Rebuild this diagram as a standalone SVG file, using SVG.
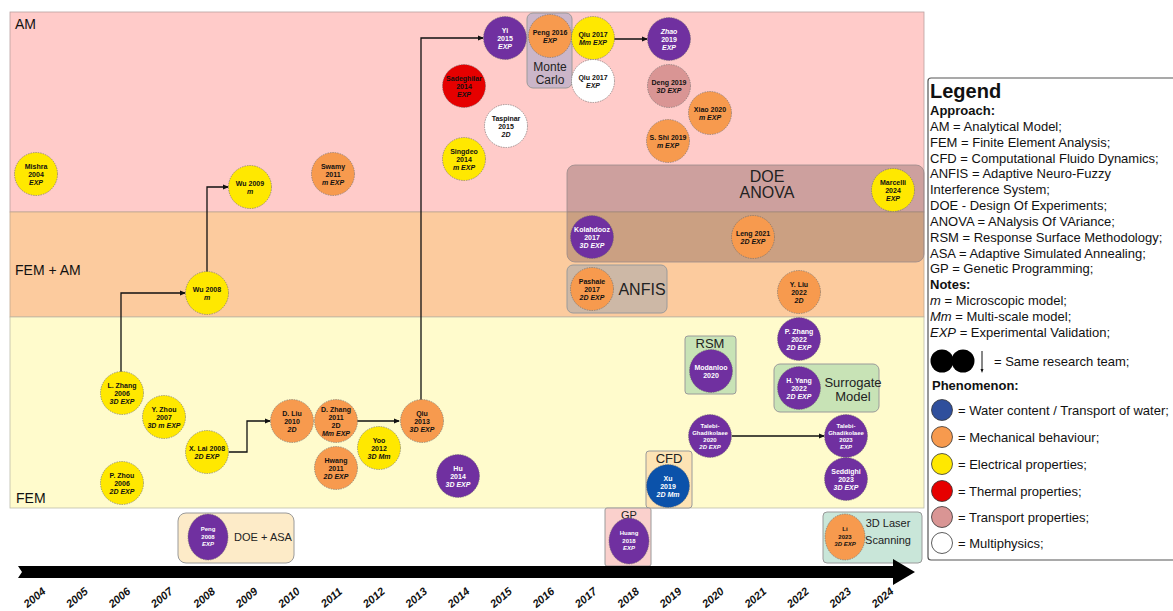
<svg xmlns="http://www.w3.org/2000/svg" width="1173" height="611" viewBox="0 0 1173 611">
<style>
.f{font-family:"Liberation Sans",Arial,Helvetica,sans-serif}
.n circle,.n ellipse{stroke:#6a6a6a;stroke-width:0.6;stroke-dasharray:1.5 1}
.t{font-family:"Liberation Sans",Arial,sans-serif;font-size:7px;font-weight:bold;text-anchor:middle;fill:#111}
.s{font-size:6px}
.w{fill:#fff}
.i{font-style:italic}
.P{fill:#7030A0}.O{fill:#F79A4E}.Y{fill:#FFE800}.R{fill:#E60000}.T{fill:#D99594}.W{fill:#fff}.B{fill:#0B52AA}
.box{stroke:#9a9a9a;stroke-width:1}
.lbl{font-family:"Liberation Sans",Arial,sans-serif;fill:#222;text-anchor:middle}
.reg{font-family:"Liberation Sans",Arial,sans-serif;font-size:14px;fill:#111}
.lg{font-family:"Liberation Sans",Arial,sans-serif;font-size:13px;fill:#111}
.yr{font-family:"Liberation Sans",Arial,sans-serif;font-size:11px;font-weight:bold;font-style:italic;fill:#111;text-anchor:middle}
.c{fill:none;stroke:#111;stroke-width:1.3}
</style>
<defs>
<marker id="ah" markerWidth="6" markerHeight="6" refX="5" refY="3" orient="auto" markerUnits="userSpaceOnUse"><path d="M0,0.5 L6,3 L0,5.5 Z" fill="#111"/></marker>
<path id="y0" d="M22,613 L52,588"/>
<path id="y1" d="M64.4,613 L94.4,588"/>
<path id="y2" d="M106.8,613 L136.8,588"/>
<path id="y3" d="M149.2,613 L179.2,588"/>
<path id="y4" d="M191.6,613 L221.6,588"/>
<path id="y5" d="M234,613 L264,588"/>
<path id="y6" d="M276.4,613 L306.4,588"/>
<path id="y7" d="M318.8,613 L348.8,588"/>
<path id="y8" d="M361.2,613 L391.2,588"/>
<path id="y9" d="M403.6,613 L433.6,588"/>
<path id="y10" d="M446,613 L476,588"/>
<path id="y11" d="M488.4,613 L518.4,588"/>
<path id="y12" d="M530.8,613 L560.8,588"/>
<path id="y13" d="M573.2,613 L603.2,588"/>
<path id="y14" d="M615.6,613 L645.6,588"/>
<path id="y15" d="M658,613 L688,588"/>
<path id="y16" d="M700.4,613 L730.4,588"/>
<path id="y17" d="M742.8,613 L772.8,588"/>
<path id="y18" d="M785.2,613 L815.2,588"/>
<path id="y19" d="M827.6,613 L857.6,588"/>
<path id="y20" d="M870,613 L900,588"/>
</defs>
<rect width="1173" height="611" fill="#fff"/>
<!-- bands -->
<g id="bands">
<rect x="10" y="12" width="914" height="200" fill="#FFCBC9" stroke="#b9a0a0" stroke-width="0.8"/>
<rect x="10" y="212" width="914" height="105" fill="#FCCB9E" stroke="#c0a890" stroke-width="0.8"/>
<rect x="10" y="317" width="914" height="191" fill="#FFFBCC" stroke="#bdbdaa" stroke-width="0.8"/>
<text class="reg" x="15" y="29">AM</text>
<text class="reg" x="15" y="275">FEM + AM</text>
<text class="reg" x="16" y="503">FEM</text>
</g>
<!-- method boxes -->
<g id="box-montecarlo"><rect class="box" x="527" y="13" width="45" height="75" rx="6" fill="#CBB6C9"/><text class="lbl" x="550" y="71" font-size="12">Monte</text><text class="lbl" x="550" y="84" font-size="12">Carlo</text></g>
<g id="box-doe-anova"><rect x="567" y="165" width="357" height="97" rx="8" fill="#6F504D" fill-opacity="0.35" stroke="#9a8a8a" stroke-width="0.8"/><text class="lbl" x="767" y="182" font-size="16">DOE</text><text class="lbl" x="767" y="198" font-size="16">ANOVA</text></g>
<g id="box-anfis"><rect class="box" x="567" y="265" width="100" height="48" rx="6" fill="#CDB8A6"/><text class="lbl" x="642" y="295" font-size="16">ANFIS</text></g>
<g id="box-rsm"><rect class="box" x="685" y="336" width="51" height="58" rx="3" fill="#C8E3B6"/><text class="lbl" x="710" y="348" font-size="13">RSM</text></g>
<g id="box-surrogate"><rect class="box" x="774" y="364" width="105" height="48" rx="6" fill="#C8E3B6"/><text class="lbl" x="853" y="387" font-size="13">Surrogate</text><text class="lbl" x="853" y="401" font-size="13">Model</text></g>
<g id="box-cfd"><rect class="box" x="646" y="451" width="46" height="57" rx="3" fill="#FDE3B4"/><text class="lbl" x="669" y="463" font-size="13">CFD</text></g>
<g id="box-doe-asa"><rect class="box" x="178" y="513" width="116" height="50" rx="8" fill="#FDEBC8"/><text class="lbl" x="263" y="541" font-size="11">DOE + ASA</text></g>
<g id="box-gp"><rect class="box" x="605" y="508" width="46" height="58" rx="2" fill="#FAD0CC"/><text class="lbl" x="629" y="519" font-size="11">GP</text></g>
<g id="box-laser"><rect class="box" x="823" y="512" width="99" height="51" rx="4" fill="#C9E6D9"/><text class="lbl" x="888" y="527" font-size="11">3D Laser</text><text class="lbl" x="888" y="544" font-size="11">Scanning</text></g>
<!-- connectors -->
<g id="connectors">
<path class="c" d="M121,372 V293 H185" marker-end="url(#ah)"/>
<path class="c" d="M207,272 V187 H228" marker-end="url(#ah)"/>
<path class="c" d="M229,452 H247 V421 H270" marker-end="url(#ah)"/>
<path class="c" d="M357,421 H399" marker-end="url(#ah)"/>
<path class="c" d="M421,400 V38 H483" marker-end="url(#ah)"/>
<path class="c" d="M614,39 H647" marker-end="url(#ah)"/>
<path class="c" d="M732,436 H824" marker-end="url(#ah)"/>
</g>
<!-- nodes -->
<g id="n-mishra2004" class="n"><circle class="Y" cx="36" cy="174" r="21.5"/><text class="t"><tspan x="36" y="168.5">Mishra</tspan><tspan x="36" y="176.5">2004</tspan><tspan x="36" y="184.5" class="i">EXP</tspan></text></g>
<g id="n-wu2009" class="n"><circle class="Y" cx="250" cy="187" r="21.5"/><text class="t"><tspan x="250" y="185.5">Wu 2009</tspan><tspan x="250" y="193.5" class="i">m</tspan></text></g>
<g id="n-swamy2011" class="n"><circle class="O" cx="333" cy="174" r="21.5"/><text class="t"><tspan x="333" y="168.5">Swamy</tspan><tspan x="333" y="176.5">2011</tspan><tspan x="333" y="184.5" class="i">m EXP</tspan></text></g>
<g id="n-sadeghilar2014" class="n"><circle class="R" cx="464" cy="86" r="21.5"/><text class="t"><tspan x="464" y="80.5">Sadeghilar</tspan><tspan x="464" y="88.5">2014</tspan><tspan x="464" y="96.5" class="i">EXP</tspan></text></g>
<g id="n-singdeo2014" class="n"><circle class="Y" cx="464" cy="159" r="21.5"/><text class="t"><tspan x="464" y="153.5">Singdeo</tspan><tspan x="464" y="161.5">2014</tspan><tspan x="464" y="169.5" class="i">m EXP</tspan></text></g>
<g id="n-taspinar2015" class="n"><circle class="W" cx="506" cy="126" r="21.5"/><text class="t"><tspan x="506" y="120.5">Taspinar</tspan><tspan x="506" y="128.5">2015</tspan><tspan x="506" y="136.5" class="i">2D</tspan></text></g>
<g id="n-yi2015" class="n"><circle class="P" cx="505" cy="38" r="21.5"/><text class="t w"><tspan x="505" y="32.5">Yi</tspan><tspan x="505" y="40.5">2015</tspan><tspan x="505" y="48.5" class="i">EXP</tspan></text></g>
<g id="n-peng2016" class="n"><circle class="O" cx="550" cy="36" r="21.5"/><text class="t"><tspan x="550" y="34.5">Peng 2016</tspan><tspan x="550" y="42.5" class="i">EXP</tspan></text></g>
<g id="n-qiu2017a" class="n"><circle class="Y" cx="593" cy="38" r="21.5"/><text class="t"><tspan x="593" y="36.5">Qiu 2017</tspan><tspan x="593" y="44.5" class="i">Mm EXP</tspan></text></g>
<g id="n-qiu2017b" class="n"><circle class="W" cx="593" cy="81" r="21.5"/><text class="t"><tspan x="593" y="79.5">Qiu 2017</tspan><tspan x="593" y="87.5" class="i">EXP</tspan></text></g>
<g id="n-zhao2019" class="n"><circle class="P" cx="669" cy="39" r="21.5"/><text class="t w"><tspan x="669" y="33.5" class="i">Zhao</tspan><tspan x="669" y="41.5">2019</tspan><tspan x="669" y="49.5" class="i">EXP</tspan></text></g>
<g id="n-deng2019" class="n"><circle class="T" cx="669" cy="86" r="21.5"/><text class="t"><tspan x="669" y="84.5">Deng 2019</tspan><tspan x="669" y="92.5" class="i">3D EXP</tspan></text></g>
<g id="n-xiao2020" class="n"><circle class="O" cx="710" cy="113" r="21.5"/><text class="t"><tspan x="710" y="111.5">Xiao 2020</tspan><tspan x="710" y="119.5" class="i">m EXP</tspan></text></g>
<g id="n-shi2019" class="n"><circle class="O" cx="668" cy="141" r="21.5"/><text class="t"><tspan x="668" y="139.5">S. Shi 2019</tspan><tspan x="668" y="147.5" class="i">m EXP</tspan></text></g>
<g id="n-marcelli2024" class="n"><circle class="Y" cx="893" cy="190" r="21.5"/><text class="t"><tspan x="893" y="184.5">Marcelli</tspan><tspan x="893" y="192.5">2024</tspan><tspan x="893" y="200.5" class="i">EXP</tspan></text></g>
<g id="n-wu2008" class="n"><circle class="Y" cx="207" cy="293" r="21.5"/><text class="t"><tspan x="207" y="291.5">Wu 2008</tspan><tspan x="207" y="299.5" class="i">m</tspan></text></g>
<g id="n-kolahdooz2017" class="n"><circle class="P" cx="592" cy="237" r="21.5"/><text class="t w"><tspan x="592" y="231.5">Kolahdooz</tspan><tspan x="592" y="239.5">2017</tspan><tspan x="592" y="247.5" class="i">3D EXP</tspan></text></g>
<g id="n-leng2021" class="n"><circle class="O" cx="753" cy="237" r="21.5"/><text class="t"><tspan x="753" y="235.5">Leng 2021</tspan><tspan x="753" y="243.5" class="i">2D EXP</tspan></text></g>
<g id="n-pashaie2017" class="n"><circle class="O" cx="592" cy="289" r="21.5"/><text class="t"><tspan x="592" y="283.5">Pashaie</tspan><tspan x="592" y="291.5">2017</tspan><tspan x="592" y="299.5" class="i">2D EXP</tspan></text></g>
<g id="n-yliu2022" class="n"><circle class="O" cx="799" cy="292" r="21.5"/><text class="t"><tspan x="799" y="286.5">Y. Liu</tspan><tspan x="799" y="294.5">2022</tspan><tspan x="799" y="302.5" class="i">2D</tspan></text></g>
<g id="n-pzhang2022" class="n"><circle class="P" cx="799" cy="339" r="21.5"/><text class="t w"><tspan x="799" y="333.5">P. Zhang</tspan><tspan x="799" y="341.5">2022</tspan><tspan x="799" y="349.5" class="i">2D EXP</tspan></text></g>
<g id="n-modanloo2020" class="n"><circle class="P" cx="711" cy="371" r="21.5"/><text class="t w"><tspan x="711" y="369.5">Modanloo</tspan><tspan x="711" y="377.5">2020</tspan></text></g>
<g id="n-hyang2022" class="n"><circle class="P" cx="799" cy="388" r="21.5"/><text class="t w"><tspan x="799" y="382.5">H. Yang</tspan><tspan x="799" y="390.5">2022</tspan><tspan x="799" y="398.5" class="i">2D EXP</tspan></text></g>
<g id="n-talebi2020" class="n"><circle class="P" cx="710" cy="436" r="21.5"/><text class="t w s"><tspan x="710" y="427.5">Talebi-</tspan><tspan x="710" y="434.5">Ghadikolaee</tspan><tspan x="710" y="441.5">2020</tspan><tspan x="710" y="448.5" class="i">2D EXP</tspan></text></g>
<g id="n-talebi2023" class="n"><circle class="P" cx="846" cy="436" r="21.5"/><text class="t w s"><tspan x="846" y="427.5">Talebi-</tspan><tspan x="846" y="434.5">Ghadikolaee</tspan><tspan x="846" y="441.5">2023</tspan><tspan x="846" y="448.5" class="i">EXP</tspan></text></g>
<g id="n-seddighi2023" class="n"><circle class="P" cx="846" cy="479" r="21.5"/><text class="t w"><tspan x="846" y="473.5">Seddighi</tspan><tspan x="846" y="481.5">2023</tspan><tspan x="846" y="489.5" class="i">3D EXP</tspan></text></g>
<g id="n-xu2019" class="n"><circle class="B" cx="668" cy="486" r="21.5"/><text class="t w"><tspan x="668" y="480.5">Xu</tspan><tspan x="668" y="488.5">2019</tspan><tspan x="668" y="496.5" class="i">2D Mm</tspan></text></g>
<g id="n-lzhang2006" class="n"><circle class="Y" cx="122" cy="393" r="21.5"/><text class="t"><tspan x="122" y="387.5">L. Zhang</tspan><tspan x="122" y="395.5">2006</tspan><tspan x="122" y="403.5" class="i">3D EXP</tspan></text></g>
<g id="n-yzhou2007" class="n"><circle class="Y" cx="164" cy="417" r="21.5"/><text class="t"><tspan x="164" y="411.5">Y. Zhou</tspan><tspan x="164" y="419.5">2007</tspan><tspan x="164" y="427.5" class="i">3D m EXP</tspan></text></g>
<g id="n-xlai2008" class="n"><circle class="Y" cx="207" cy="452" r="21.5"/><text class="t"><tspan x="207" y="450.5">X. Lai 2008</tspan><tspan x="207" y="458.5" class="i">2D EXP</tspan></text></g>
<g id="n-dliu2010" class="n"><circle class="O" cx="292" cy="421" r="21.5"/><text class="t"><tspan x="292" y="415.5">D. Liu</tspan><tspan x="292" y="423.5">2010</tspan><tspan x="292" y="431.5" class="i">2D</tspan></text></g>
<g id="n-dzhang2011" class="n"><circle class="O" cx="336" cy="421" r="21.5"/><text class="t"><tspan x="336" y="411.5">D. Zhang</tspan><tspan x="336" y="419.5">2011</tspan><tspan x="336" y="427.5">2D</tspan><tspan x="336" y="435.5" class="i">Mm EXP</tspan></text></g>
<g id="n-qiu2013" class="n"><circle class="O" cx="422" cy="421" r="21.5"/><text class="t"><tspan x="422" y="415.5">Qiu</tspan><tspan x="422" y="423.5">2013</tspan><tspan x="422" y="431.5" class="i">3D EXP</tspan></text></g>
<g id="n-yoo2012" class="n"><circle class="Y" cx="379" cy="448" r="21.5"/><text class="t"><tspan x="379" y="442.5">Yoo</tspan><tspan x="379" y="450.5">2012</tspan><tspan x="379" y="458.5" class="i">3D Mm</tspan></text></g>
<g id="n-hwang2011" class="n"><circle class="O" cx="336" cy="468" r="21.5"/><text class="t"><tspan x="336" y="462.5">Hwang</tspan><tspan x="336" y="470.5">2011</tspan><tspan x="336" y="478.5" class="i">2D EXP</tspan></text></g>
<g id="n-pzhou2006" class="n"><circle class="Y" cx="122" cy="483" r="21.5"/><text class="t"><tspan x="122" y="477.5">P. Zhou</tspan><tspan x="122" y="485.5">2006</tspan><tspan x="122" y="493.5" class="i">2D EXP</tspan></text></g>
<g id="n-hu2014" class="n"><circle class="P" cx="458" cy="476" r="21.5"/><text class="t w"><tspan x="458" y="470.5">Hu</tspan><tspan x="458" y="478.5">2014</tspan><tspan x="458" y="486.5" class="i">3D EXP</tspan></text></g>
<g id="n-peng2008" class="n"><ellipse class="P" cx="208" cy="537" rx="20" ry="23"/><text class="t w s"><tspan x="208" y="531">Peng</tspan><tspan x="208" y="538.5">2008</tspan><tspan x="208" y="546" class="i">EXP</tspan></text></g>
<g id="n-huang2018" class="n"><ellipse class="P" cx="629" cy="541" rx="20" ry="23"/><text class="t w s"><tspan x="629" y="535">Huang</tspan><tspan x="629" y="542.5">2018</tspan><tspan x="629" y="550" class="i">EXP</tspan></text></g>
<g id="n-li2023" class="n"><ellipse class="O" cx="845" cy="537" rx="20" ry="23"/><text class="t s"><tspan x="845" y="531">Li</tspan><tspan x="845" y="538.5">2023</tspan><tspan x="845" y="546" class="i">3D EXP</tspan></text></g>
<!-- timeline -->
<g id="timeline">
<path d="M18,566 L893,566 L893,559 L915,572 L893,585 L893,578 L18,578 L22,572 Z" fill="#000"/>
<text class="yr"><textPath href="#y0" startOffset="50%">2004</textPath></text>
<text class="yr"><textPath href="#y1" startOffset="50%">2005</textPath></text>
<text class="yr"><textPath href="#y2" startOffset="50%">2006</textPath></text>
<text class="yr"><textPath href="#y3" startOffset="50%">2007</textPath></text>
<text class="yr"><textPath href="#y4" startOffset="50%">2008</textPath></text>
<text class="yr"><textPath href="#y5" startOffset="50%">2009</textPath></text>
<text class="yr"><textPath href="#y6" startOffset="50%">2010</textPath></text>
<text class="yr"><textPath href="#y7" startOffset="50%">2011</textPath></text>
<text class="yr"><textPath href="#y8" startOffset="50%">2012</textPath></text>
<text class="yr"><textPath href="#y9" startOffset="50%">2013</textPath></text>
<text class="yr"><textPath href="#y10" startOffset="50%">2014</textPath></text>
<text class="yr"><textPath href="#y11" startOffset="50%">2015</textPath></text>
<text class="yr"><textPath href="#y12" startOffset="50%">2016</textPath></text>
<text class="yr"><textPath href="#y13" startOffset="50%">2017</textPath></text>
<text class="yr"><textPath href="#y14" startOffset="50%">2018</textPath></text>
<text class="yr"><textPath href="#y15" startOffset="50%">2019</textPath></text>
<text class="yr"><textPath href="#y16" startOffset="50%">2020</textPath></text>
<text class="yr"><textPath href="#y17" startOffset="50%">2021</textPath></text>
<text class="yr"><textPath href="#y18" startOffset="50%">2022</textPath></text>
<text class="yr"><textPath href="#y19" startOffset="50%">2023</textPath></text>
<text class="yr"><textPath href="#y20" startOffset="50%">2024</textPath></text>
</g>
<!-- legend -->
<g id="legend">
<rect x="928" y="78" width="250" height="482" rx="3" fill="#fff" stroke="#555" stroke-width="1.2"/>
<text class="f" x="930" y="98" font-size="20" font-weight="bold" fill="#111">Legend</text>
<text class="lg" x="930" y="114.5" font-weight="bold">Approach:</text>
<text class="lg" x="930" y="130.5">AM = Analytical Model;</text>
<text class="lg" x="930" y="146.5">FEM = Finite Element Analysis;</text>
<text class="lg" x="930" y="162.5">CFD = Computational Fluido Dynamics;</text>
<text class="lg" x="930" y="178">ANFIS = Adaptive Neuro-Fuzzy</text>
<text class="lg" x="930" y="193.5">Interference System;</text>
<text class="lg" x="930" y="209.5">DOE - Design Of Experiments;</text>
<text class="lg" x="930" y="225.5">ANOVA = ANalysis Of VAriance;</text>
<text class="lg" x="930" y="241.5">RSM = Response Surface Methodology;</text>
<text class="lg" x="930" y="257.5">ASA = Adaptive Simulated Annealing;</text>
<text class="lg" x="930" y="273">GP = Genetic Programming;</text>
<text class="lg" x="930" y="289" font-weight="bold">Notes:</text>
<text class="lg" x="930" y="304.5"><tspan font-style="italic">m</tspan> = Microscopic model;</text>
<text class="lg" x="930" y="320.5"><tspan font-style="italic">Mm</tspan> = Multi-scale model;</text>
<text class="lg" x="930" y="336.5"><tspan font-style="italic">EXP</tspan> = Experimental Validation;</text>
<circle cx="942" cy="361" r="11.5" fill="#000"/>
<circle cx="963" cy="361" r="11.5" fill="#000"/>
<line x1="982" y1="351" x2="982" y2="371" stroke="#111" stroke-width="1"/>
<path d="M980.5,369 L982,373 L983.5,369 Z" fill="#111"/>
<text class="lg" x="994" y="366">= Same research team;</text>
<text class="lg" x="932" y="390" font-weight="bold">Phenomenon:</text>
<ellipse cx="942" cy="410" rx="10.5" ry="10.5" fill="#2F4F9C" stroke="#333" stroke-width="0.8"/>
<text class="lg" x="958" y="414.5">= Water content / Transport of water;</text>
<ellipse cx="942" cy="437" rx="10.5" ry="10.5" fill="#F79A4E" stroke="#333" stroke-width="0.8"/>
<text class="lg" x="958" y="441.5">= Mechanical behaviour;</text>
<ellipse cx="942" cy="464" rx="10.5" ry="10.5" fill="#FFE800" stroke="#333" stroke-width="0.8"/>
<text class="lg" x="958" y="468.5">= Electrical properties;</text>
<ellipse cx="942" cy="491" rx="10.5" ry="10.5" fill="#E60000" stroke="#333" stroke-width="0.8"/>
<text class="lg" x="958" y="495.5">= Thermal properties;</text>
<ellipse cx="942" cy="517" rx="10.5" ry="10.5" fill="#D99594" stroke="#333" stroke-width="0.8"/>
<text class="lg" x="958" y="521.5">= Transport properties;</text>
<ellipse cx="942" cy="543" rx="10.5" ry="10.5" fill="#fff" stroke="#333" stroke-width="0.8"/>
<text class="lg" x="958" y="547.5">= Multiphysics;</text>
</g>
</svg>
